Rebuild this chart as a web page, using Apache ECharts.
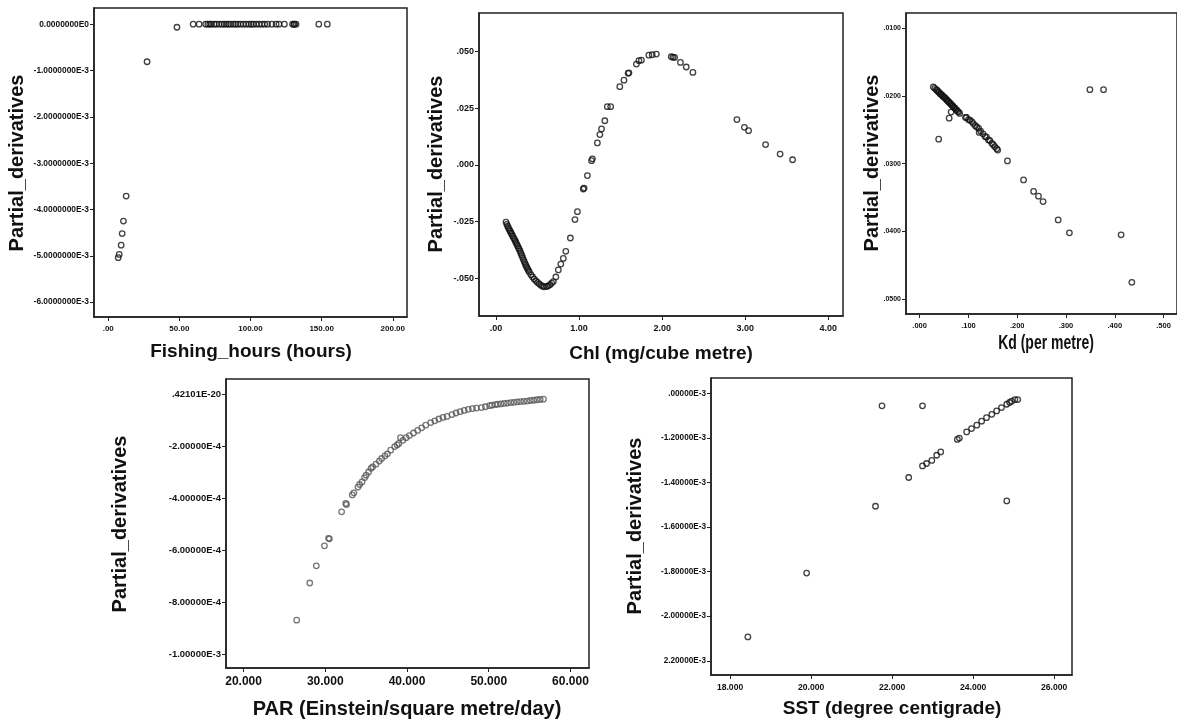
<!DOCTYPE html>
<html><head><meta charset="utf-8">
<script src="https://cdn.jsdelivr.net/npm/echarts@6/dist/echarts.min.js"></script>
<style>html,body{margin:0;padding:0;background:#fff}#c{width:1177px;height:721px}</style>
</head><body><div id="c"></div>
<script>
// ---------- Panel 1: Fishing hours ----------
const fishX = [7.0,7.7,9.1,9.8,10.7,12.6,27.3,48.3,59.7,63.9,68.5,70,71.3,72.5,74.4,76,78,80,81.5,83,84.5,86,88,89.5,91,93,95,97,99,100.5,102,104,106,108,110,112,115,118,120,123.8,129.6,130.5,131,132,148,154];
const fishY = [-5.04e-3,-4.97e-3,-4.77e-3,-4.52e-3,-4.25e-3,-3.71e-3,-0.81e-3,-0.065e-3,0,0,0,0,0,0,0,0,0,0,0,0,0,0,0,0,0,0,0,0,0,0,0,0,0,0,0,0,0,0,0,0,0,0,0,0,0,0];
const fishXTicks = [0,50,100,150,200];
const fishXLabels = ['.00','50.00','100.00','150.00','200.00'];
const fishYTicks = [0,-1e-3,-2e-3,-3e-3,-4e-3,-5e-3,-6e-3];
const fishYLabels = ['0.0000000E0','-1.0000000E-3','-2.0000000E-3','-3.0000000E-3','-4.0000000E-3','-5.0000000E-3','-6.0000000E-3'];

// ---------- Panel 2: Chl ----------
const chlX = [0.12,0.13,0.14,0.15,0.16,0.17,0.18,0.19,0.20,0.21,0.22,0.23,0.24,0.25,0.26,0.27,0.28,0.29,0.30,0.31,0.32,0.33,0.34,0.35,0.36,0.37,0.38,0.39,0.40,0.42,0.44,0.46,0.48,0.50,0.52,0.54,0.56,0.58,0.61,0.63,0.65,0.67,0.69,0.72,0.75,0.78,0.81,0.84,0.895,0.95,0.98,1.05,1.06,1.10,1.15,1.16,1.22,1.25,1.27,1.31,1.34,1.38,1.49,1.54,1.59,1.60,1.69,1.72,1.75,1.84,1.88,1.93,2.11,2.13,2.15,2.22,2.29,2.37,2.90,2.99,3.04,3.245,3.42,3.57];
const chlY = [-0.0252,-0.0262,-0.0270,-0.0278,-0.0285,-0.0292,-0.0299,-0.0306,-0.0313,-0.0320,-0.0327,-0.0334,-0.0342,-0.0350,-0.0357,-0.0365,-0.0372,-0.0380,-0.0390,-0.0399,-0.0408,-0.0417,-0.0426,-0.0435,-0.0443,-0.0451,-0.0458,-0.0465,-0.0472,-0.0484,-0.0494,-0.0503,-0.0511,-0.0518,-0.0524,-0.0530,-0.0535,-0.0537,-0.0536,-0.0533,-0.0528,-0.0521,-0.0514,-0.0494,-0.0463,-0.0437,-0.0412,-0.0381,-0.0322,-0.0241,-0.0206,-0.0106,-0.0102,-0.0047,0.0019,0.0027,0.0097,0.0134,0.0159,0.0195,0.0257,0.0257,0.0345,0.0374,0.0404,0.0406,0.0445,0.0460,0.0462,0.0484,0.0486,0.0489,0.0477,0.0475,0.0474,0.0452,0.0432,0.0408,0.0200,0.0166,0.0151,0.0090,0.0048,0.0023];
const chlXTicks = [0,1,2,3,4];
const chlXLabels = ['.00','1.00','2.00','3.00','4.00'];
const chlYTicks = [0.05,0.025,0,-0.025,-0.05];
const chlYLabels = ['.050','.025','.000','-.025','-.050'];

// ---------- Panel 3: Kd ----------
const kdX = [0.028,0.031,0.034,0.036,0.038,0.040,0.042,0.044,0.046,0.048,0.050,0.052,0.054,0.056,0.058,0.060,0.062,0.064,0.066,0.068,0.070,0.072,0.074,0.076,0.078,0.080,0.082,0.0645,0.0605,0.039,0.094,0.096,0.100,0.103,0.107,0.110,0.114,0.117,0.121,0.122,0.125,0.130,0.134,0.137,0.141,0.144,0.148,0.151,0.154,0.158,0.160,0.180,0.213,0.2336,0.2436,0.253,0.284,0.307,0.349,0.377,0.413,0.435];
const kdY = [-0.0187,-0.0189,-0.0191,-0.0192,-0.0194,-0.0195,-0.0197,-0.0198,-0.0199,-0.0201,-0.0202,-0.0203,-0.0205,-0.0206,-0.0208,-0.0209,-0.0211,-0.0212,-0.0214,-0.0215,-0.0217,-0.0218,-0.0220,-0.0221,-0.0223,-0.0224,-0.0226,-0.0224,-0.0233,-0.0264,-0.0232,-0.0232,-0.0235,-0.0236,-0.0238,-0.0241,-0.0244,-0.0246,-0.0248,-0.0254,-0.0252,-0.0256,-0.0260,-0.0261,-0.0265,-0.0266,-0.0270,-0.0272,-0.0275,-0.0278,-0.0280,-0.0296,-0.0324,-0.0341,-0.0348,-0.0356,-0.0383,-0.0402,-0.0191,-0.0191,-0.0405,-0.0475];
const kdXTicks = [0,0.1,0.2,0.3,0.4,0.5];
const kdXLabels = ['.000','.100','.200','.300','.400','.500'];
const kdYTicks = [-0.01,-0.02,-0.03,-0.04,-0.05];
const kdYLabels = ['.0100','.0200','.0300','.0400','.0500'];

// ---------- Panel 4: PAR ----------
const parX = [26.5,28.1,28.9,29.9,30.4,30.5,32.0,32.5,32.6,33.3,33.5,34.0,34.2,34.5,34.8,35.0,35.3,35.6,35.8,36.2,36.6,36.9,37.3,37.6,38.0,38.5,38.8,39.0,39.2,39.5,39.9,40.3,40.8,41.3,41.8,42.3,42.9,43.4,43.9,44.4,44.9,45.5,46.0,46.5,47.0,47.5,48.0,48.5,49.1,49.6,50.1,50.4,50.8,51.1,51.5,51.9,52.3,52.7,53.1,53.5,53.9,54.3,54.7,55.1,55.5,55.9,56.3,56.7];
const parY = [-8.70e-4,-7.27e-4,-6.61e-4,-5.84e-4,-5.55e-4,-5.57e-4,-4.53e-4,-4.21e-4,-4.25e-4,-3.88e-4,-3.80e-4,-3.58e-4,-3.48e-4,-3.38e-4,-3.22e-4,-3.12e-4,-3.00e-4,-2.86e-4,-2.80e-4,-2.70e-4,-2.58e-4,-2.48e-4,-2.38e-4,-2.30e-4,-2.16e-4,-2.02e-4,-1.96e-4,-1.90e-4,-1.68e-4,-1.78e-4,-1.68e-4,-1.60e-4,-1.50e-4,-1.40e-4,-1.30e-4,-1.20e-4,-1.10e-4,-1.03e-4,-9.6e-5,-9.0e-5,-8.6e-5,-7.9e-5,-7.3e-5,-6.8e-5,-6.3e-5,-5.9e-5,-5.6e-5,-5.4e-5,-5.2e-5,-4.9e-5,-4.5e-5,-4.3e-5,-4.1e-5,-3.9e-5,-3.8e-5,-3.6e-5,-3.5e-5,-3.3e-5,-3.2e-5,-3.0e-5,-2.9e-5,-2.8e-5,-2.7e-5,-2.5e-5,-2.4e-5,-2.2e-5,-2.1e-5,-2.0e-5];
const parXTicks = [20,30,40,50,60];
const parXLabels = ['20.000','30.000','40.000','50.000','60.000'];
const parYTicks = [0,-2e-4,-4e-4,-6e-4,-8e-4,-1e-3];
const parYLabels = ['.42101E-20','-2.00000E-4','-4.00000E-4','-6.00000E-4','-8.00000E-4','-1.00000E-3'];

// ---------- Panel 5: SST ----------
const sstX = [18.44,19.89,21.59,21.75,22.75,22.41,22.75,22.85,22.98,23.10,23.20,23.61,23.66,23.84,23.96,24.09,24.21,24.33,24.46,24.58,24.70,24.83,24.90,24.95,25.03,25.10,24.83];
const sstY = [-2.093e-3,-1.806e-3,-1.506e-3,-1.055e-3,-1.055e-3,-1.377e-3,-1.325e-3,-1.314e-3,-1.300e-3,-1.277e-3,-1.262e-3,-1.206e-3,-1.200e-3,-1.172e-3,-1.157e-3,-1.142e-3,-1.124e-3,-1.108e-3,-1.093e-3,-1.078e-3,-1.063e-3,-1.048e-3,-1.040e-3,-1.034e-3,-1.027e-3,-1.027e-3,-1.482e-3];
const sstXTicks = [18,20,22,24,26];
const sstXLabels = ['18.000','20.000','22.000','24.000','26.000'];
const sstYTicks = [-1.0e-3,-1.2e-3,-1.4e-3,-1.6e-3,-1.8e-3,-2.0e-3,-2.2e-3];
const sstYLabels = ['.00000E-3','-1.20000E-3','-1.40000E-3','-1.60000E-3','-1.80000E-3','-2.00000E-3','2.20000E-3'];

const yTitle = 'Partial_derivatives';
const xTitles = ['Fishing_hours (hours)','Chl (mg/cube metre)','Kd (per metre)','PAR (Einstein/square metre/day)','SST (degree centigrade)'];

// ---------- build ----------
const SANS = '"Liberation Sans",Arial,Helvetica,sans-serif';
function zip(a,b){return a.map((v,i)=>[v,b[i]]);}
function fmt(ticks,labels){return function(v){let bi=0,bd=Infinity;ticks.forEach((t,i)=>{const d=Math.abs(t-v);if(d<bd){bd=d;bi=i;}});return labels[bi];};}

const panels = [
  {grid:{left:94,top:8,width:313,height:309},xr:[-10,210],yr:[-6.32e-3,0.35e-3],xt:fishXTicks,xl:fishXLabels,yt:fishYTicks,yl:fishYLabels,data:zip(fishX,fishY),xfs:8,yfs:8.4,col:'#111'},
  {grid:{left:479,top:13,width:364,height:303},xr:[-0.205,4.177],yr:[-0.0666,0.067],xt:chlXTicks,xl:chlXLabels,yt:chlYTicks,yl:chlYLabels,data:zip(chlX,chlY),xfs:9,yfs:9,col:'#111'},
  {grid:{left:906,top:13,width:276,height:301},xr:[-0.028,0.5276],yr:[-0.05217,-0.00779],xt:kdXTicks,xl:kdXLabels,yt:kdYTicks,yl:kdYLabels,data:zip(kdX,kdY),xfs:7.5,yfs:7,col:'#111'},
  {grid:{left:226,top:379,width:363,height:289},xr:[17.85,62.27],yr:[-1.054e-3,0.578e-4],xt:parXTicks,xl:parXLabels,yt:parYTicks,yl:parYLabels,data:zip(parX,parY),xfs:12,yfs:9.5,col:'#555'},
  {grid:{left:711,top:378,width:361,height:297},xr:[17.53,26.44],yr:[-2.264e-3,-0.93e-3],xt:sstXTicks,xl:sstXLabels,yt:sstYTicks,yl:sstYLabels,data:zip(sstX,sstY),xfs:8.6,yfs:8.2,col:'#111'}
];

const grid=[],xAxis=[],yAxis=[],series=[];
panels.forEach((p,i)=>{
  grid.push(Object.assign({show:true,borderColor:'#222',borderWidth:1.5,backgroundColor:'rgba(0,0,0,0)'},p.grid));
  const common = {type:'value',gridIndex:i,splitLine:{show:false},
    axisLine:{show:true,onZero:false,lineStyle:{color:'#222',width:1.5}},
    axisTick:{show:true,length:4,inside:false,lineStyle:{color:'#222',width:1}}};
  xAxis.push(Object.assign({},common,{min:p.xr[0],max:p.xr[1],
    axisTick:Object.assign({},common.axisTick,{customValues:p.xt}),
    axisLabel:{customValues:p.xt,formatter:fmt(p.xt,p.xl),color:'#111',fontFamily:SANS,fontSize:p.xfs,fontWeight:'bold',margin:8}}));
  yAxis.push(Object.assign({},common,{min:p.yr[0],max:p.yr[1],
    axisTick:Object.assign({},common.axisTick,{customValues:p.yt}),
    axisLabel:{customValues:p.yt,formatter:fmt(p.yt,p.yl),color:'#111',fontFamily:SANS,fontSize:p.yfs,fontWeight:'bold',margin:5}}));
  series.push({type:'scatter',xAxisIndex:i,yAxisIndex:i,data:p.data,symbol:'circle',symbolSize:5.5,
    itemStyle:{color:'rgba(255,255,255,0)',borderColor:p.col,borderWidth:1.3},silent:true,animation:false});
});

// axis titles
const yTitlePos = [[17,163],[436,164],[872,163],[120,524],[635,526]];
const xTitlePos = [[251,352],[661,354],[1046,343],[407,709],[892,709]];
const xTitleSizes = [19,19,20,20,19];
const xTitleScale = [1,1,0.7,1,1];
const graphic=[];
yTitlePos.forEach(pos=>graphic.push({type:'text',x:pos[0],y:pos[1],rotation:Math.PI/2,
  style:{text:yTitle,font:'bold 20px '+SANS,fill:'#111',textAlign:'center',textVerticalAlign:'middle'}}));
xTitlePos.forEach((pos,i)=>graphic.push({type:'text',x:pos[0],y:pos[1],scaleX:xTitleScale[i],
  style:{text:xTitles[i],font:'bold '+xTitleSizes[i]+'px '+SANS,fill:'#111',textAlign:'center',textVerticalAlign:'middle'}}));

const chart = echarts.init(document.getElementById('c'),null,{renderer:'canvas'});
chart.setOption({animation:false,backgroundColor:'#fff',grid,xAxis,yAxis,series,graphic});
</script></body></html>
